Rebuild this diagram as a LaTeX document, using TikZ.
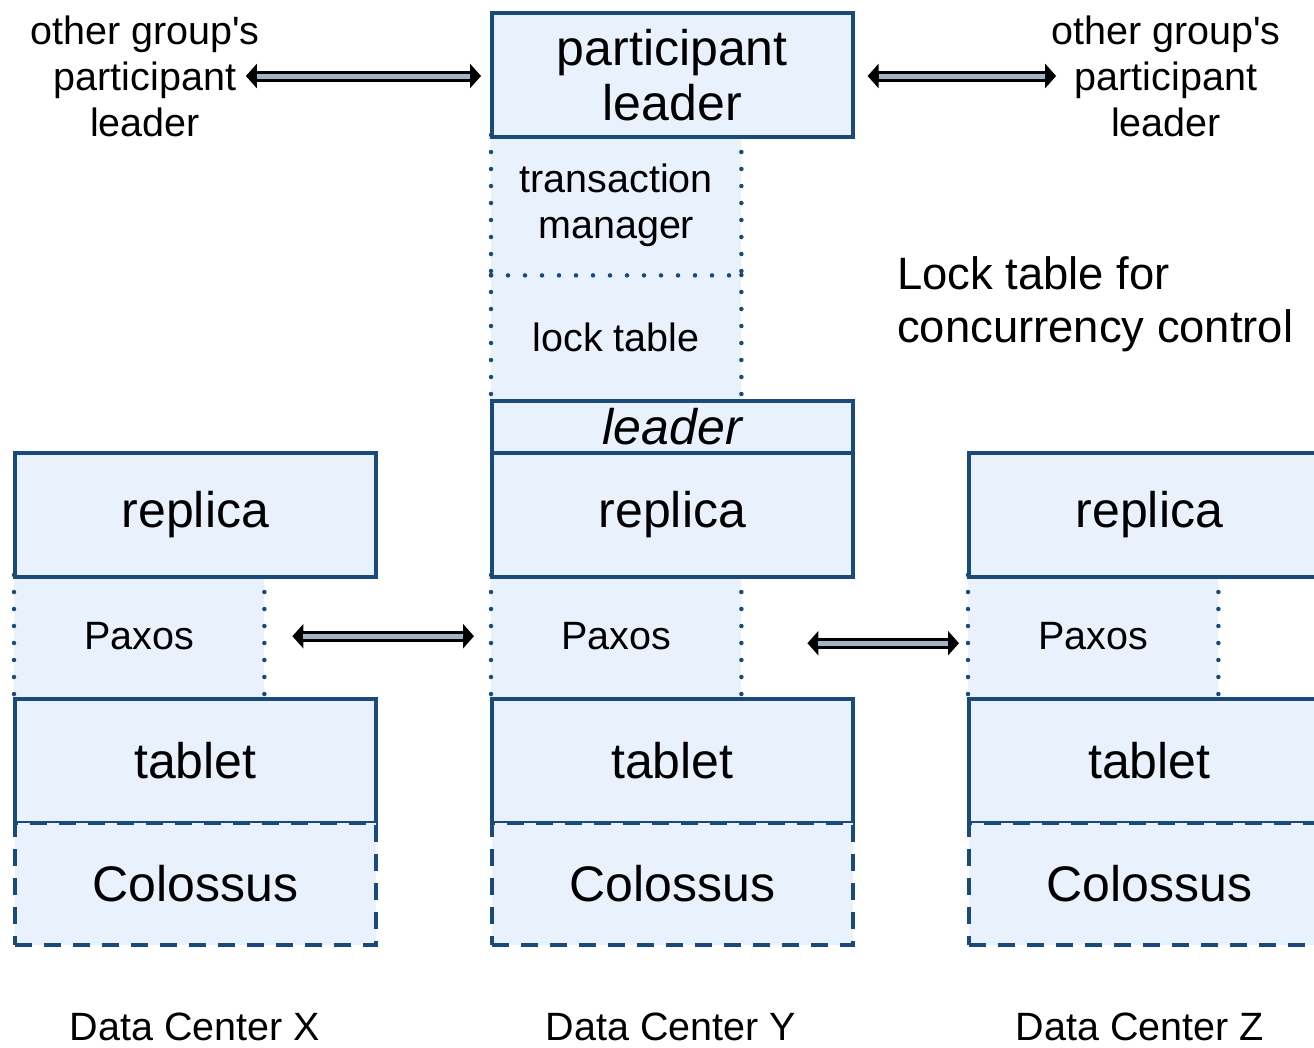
\documentclass[tikz,border=0pt]{standalone}
\usepackage{fontspec}
\setmainfont{Liberation Sans}[Ligatures=TeXOff]
\usetikzlibrary{arrows.meta}
\definecolor{bordercol}{HTML}{1A4A7A}
\definecolor{boxfill}{HTML}{E8F1FC}
\definecolor{arrowfill}{HTML}{A3B3C6}
\tikzset{
  solidbox/.style={draw=bordercol, line width=3.6pt, fill=boxfill, inner sep=0pt, minimum width=361pt, anchor=north west, align=center, font=\fontsize{50}{55}\selectfont},
  softbox/.style={fill=boxfill, inner sep=0pt, minimum width=250pt, anchor=north west, align=center, font=\fontsize{39.5}{46}\selectfont},
  dashbox/.style={solidbox, dash pattern=on 17pt off 12pt},
  dotline/.style={draw=bordercol, line width=4.5pt, dash pattern=on 0pt off 17pt, line cap=round},
  sidelabel/.style={inner sep=0pt, align=center, font=\fontsize{39.5}{46}\selectfont},
  dclabel/.style={inner sep=0pt, font=\fontsize{39.5}{46}\selectfont},
  notelabel/.style={inner sep=0pt, align=left, anchor=west, font=\fontsize{45.4}{53}\selectfont},
  dblarrow/.style={draw=black, line width=11pt, {Triangle[length=11pt,width=24pt]}-{Triangle[length=11pt,width=24pt]},
    postaction={draw=arrowfill, line width=5pt, arrows=-, shorten <=11pt, shorten >=11pt}},
}
\begin{document}
\begin{tikzpicture}[x=1pt,y=-1pt]
\useasboundingbox (0,0) rectangle (1314,1047);
\clip (0,0) rectangle (1314,1047);
\fill[white] (0,0) rectangle (1314,1047);

% soft (dotted) regions
\node[softbox, minimum height=140pt] (tm) at (491,135) {transaction\\manager};
\node[softbox, minimum height=124pt] (lk) at (491,275) {lock table};
\node[softbox, minimum height=122pt] (pxX) at (14,575) {Paxos};
\node[softbox, minimum height=122pt] (pxY) at (491,575) {Paxos};
\node[softbox, minimum height=122pt] (pxZ) at (968,575) {Paxos};

\draw[dotline] (tm.north west) -- (tm.south west);
\draw[dotline] (tm.north east) -- (tm.south east);
\draw[dotline] (tm.south west) -- (tm.south east);
\draw[dotline] (lk.north west) -- (lk.south west);
\draw[dotline] (lk.north east) -- (lk.south east);
\foreach \p in {pxX,pxY,pxZ}{
  \draw[dotline] (\p.north west) -- (\p.south west);
  \draw[dotline] (\p.north east) -- (\p.south east);
}

% solid boxes
\node[solidbox, minimum height=124pt] (pl) at (490,11) {participant\\leader};
\node[solidbox, minimum height=52pt, font=\fontsize{50}{55}\itshape] (ld) at (490,399) {leader};
\node[solidbox, minimum height=124pt] (rpX) at (13,451) {replica};
\node[solidbox, minimum height=124pt] (rpY) at (490,451) {replica};
\node[solidbox, minimum height=124pt] (rpZ) at (967,451) {replica};
\node[solidbox, minimum height=124pt] (tbX) at (13,697) {tablet};
\node[solidbox, minimum height=124pt] (tbY) at (490,697) {tablet};
\node[solidbox, minimum height=124pt] (tbZ) at (967,697) {tablet};
\node[dashbox, minimum height=122pt] (coX) at (13,821) {Colossus};
\node[dashbox, minimum height=122pt] (coY) at (490,821) {Colossus};
\node[dashbox, minimum height=122pt] (coZ) at (967,821) {Colossus};

% labels
\node[sidelabel] (oL) at (145,76) {other group's\\participant\\leader};
\node[sidelabel] (oR) at (1166,76) {other group's\\participant\\leader};
\node[notelabel] (note) at (897,304) {Lock table for\\concurrency control};
\node[dclabel] (dcX) at (195,1027) {Data Center X};
\node[dclabel] (dcY) at (671,1027) {Data Center Y};
\node[dclabel] (dcZ) at (1140,1027) {Data Center Z};

% arrows
\draw[dblarrow] ([xshift=-14pt]oL.east) -- ([xshift=-9pt]pl.west |- oL.east);
\draw[dblarrow] ([xshift=13pt]pl.east |- oR.west) -- ([xshift=5pt]oR.west);
\draw[dblarrow] ([xshift=28pt]pxX.east) -- ([xshift=-17pt]pxY.west);
\draw[dblarrow] ([xshift=66pt,yshift=-7pt]pxY.east) -- ([xshift=-9pt,yshift=-7pt]pxZ.west);
\end{tikzpicture}
\end{document}
